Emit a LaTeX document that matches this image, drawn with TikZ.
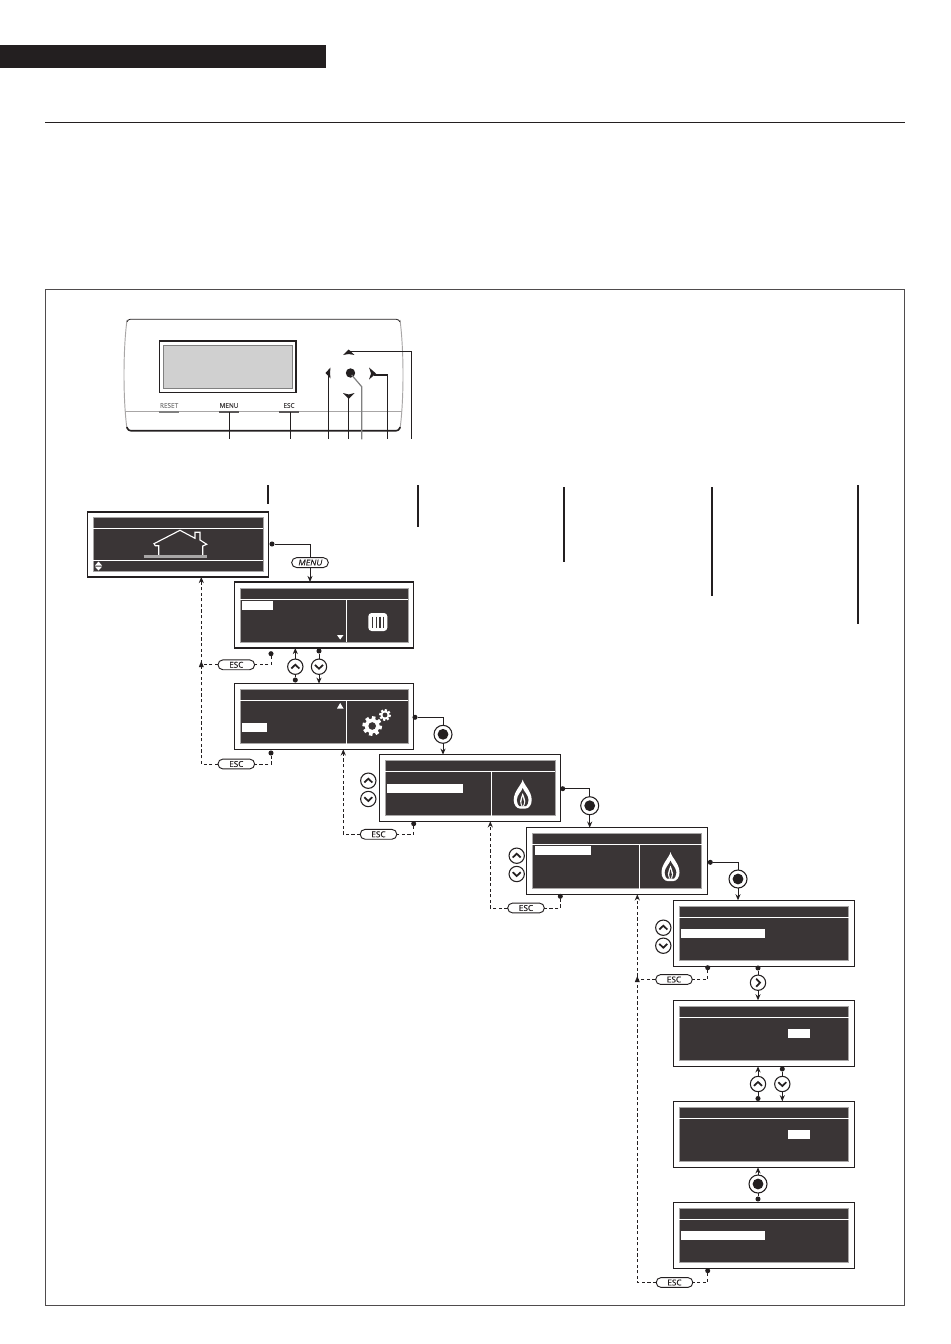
\documentclass[tikz,border=0pt]{standalone}
\usepackage{fontspec}
\setmainfont{Open Sans}
\newfontfamily\pillfont[FakeBold=0.35]{Open Sans}
\newfontfamily\pillslant[FakeBold=0.35,FakeSlant=0.18]{Open Sans}
\usetikzlibrary{arrows.meta,shapes.misc,calc}
\definecolor{lcd}{HTML}{3A3536}
\definecolor{ink}{HTML}{231F20}
\definecolor{edge}{HTML}{A8A6A6}
\definecolor{lcdpanel}{HTML}{D0D0D0}
\newcommand{\scrn}[8]{% name, x1,y1,x2,y2 outer; inner inset top, header y, vertical x or 0
  \pgfmathsetmacro{\scrw}{(#4-#2)*0.75}\pgfmathsetmacro{\scrh}{(#5-#3)*0.75}
  \node[scrbox,minimum width=\scrw pt,minimum height=\scrh pt,anchor=north west] (#1) at (#2,#3) {};
  \fill[lcd,draw=edge,line width=.5pt] ($(#2,#3)+(5.5,#6)$) rectangle ($(#4,#5)+(-5.5,-5.6)$);
  \draw[lcdline] (#2+5.5,#7) -- (#4-5.5,#7);
  \ifnum#8>0 \draw[lcdline] (#8,#7) -- (#8,#5-5.6);\fi
}
\newcommand{\hlt}[4]{\fill[white] (#1,#2) rectangle (#3,#4);}
\newcommand{\btnbase}[3]{\node[btn] (#1) at (#2,#3) {};}
\newcommand{\btnU}[3]{\btnbase{#1}{#2}{#3}\draw[chev] ($(#1)+(-4,1.8)$) -- ($(#1)+(0,-2)$) -- ($(#1)+(4,1.8)$);}
\newcommand{\btnD}[3]{\btnbase{#1}{#2}{#3}\draw[chev] ($(#1)+(-4,-1.8)$) -- ($(#1)+(0,2)$) -- ($(#1)+(4,-1.8)$);}
\newcommand{\btnR}[3]{\btnbase{#1}{#2}{#3}\draw[chev] ($(#1)+(-1.8,-4)$) -- ($(#1)+(2,0)$) -- ($(#1)+(-1.8,4)$);}
\newcommand{\btnO}[3]{\node[btn,minimum size=13.5pt] (#1) at (#2,#3) {};\fill[ink] (#1) circle (5.4);}
\newcommand{\flameicon}[2]{\begin{scope}[shift={(#1,#2)}]
  \fill[white] (0,-14.5) .. controls (1,-9) and (9,-3) .. (9,6) .. controls (9,11) and (6,14.5) .. (3,14.5) -- (-3,14.5) .. controls (-6,14.5) and (-9,11) .. (-9,6) .. controls (-9,-3) and (-1,-9) .. (0,-14.5) -- cycle;
  \fill[lcd] (0,-6) .. controls (.5,-3) and (5.8,1) .. (5.8,6) .. controls (5.8,9) and (4.5,11) .. (3.5,12) -- (-3.5,12) .. controls (-4.5,11) and (-5.8,9) .. (-5.8,6) .. controls (-5.8,1) and (-.5,-3) .. (0,-6) -- cycle;
  \fill[white] (0,-1) .. controls (.5,2) and (2.6,4) .. (2.6,7) .. controls (2.6,9) and (1.8,11) .. (1.2,12) -- (-1.2,12) .. controls (-1.8,11) and (-2.6,9) .. (-2.6,7) .. controls (-2.6,4) and (-.5,2) .. (0,-1) -- cycle;
  \fill[lcd] (0,2.5) .. controls (.3,4.5) and (1.3,6) .. (1.3,8) .. controls (1.3,10) and (.6,11) .. (0,12) .. controls (-.6,11) and (-1.3,10) .. (-1.3,8) .. controls (-1.3,6) and (-.3,4.5) .. (0,2.5) -- cycle;
\end{scope}}
\newcommand{\gearicon}[5]{\begin{scope}[shift={(#1,#2)}]
  \fill[white] (0,0) circle (#3);
  \foreach \a in {0,45,...,315}{\draw[white,line width=#5 pt] (0,0) ++(\a+10:#3*.7) -- ++(\a+10:#3*.62);}
  \fill[lcd] (0,0) circle (#4);
\end{scope}}
\tikzset{
  scrbox/.style={draw=ink,line width=.9pt,fill=white,inner sep=0pt,outer sep=0pt},
  lcdline/.style={draw=white,line width=.7pt},
  conn/.style={draw=ink,line width=.75pt},
  dsh/.style={draw=ink,line width=.75pt,dash pattern=on 2.4pt off 1.8pt},
  tipped/.style={-{Stealth[length=4.6pt,width=3.8pt]}},
  btn/.style={circle,draw=ink,line width=.8pt,fill=white,minimum size=11.5pt,inner sep=0pt,outer sep=0pt},
  chev/.style={draw=ink,line width=1.3pt,miter limit=3},
  pill/.style={rounded rectangle,draw=ink,line width=.7pt,fill=white,minimum width=27.5pt,minimum height=7.4pt,inner sep=0pt,outer sep=0pt,font=\pillfont\fontsize{6.1}{6}\selectfont,text=ink},
  dotn/.style={circle,fill=ink,minimum size=3.8pt,inner sep=0pt,outer sep=0pt},
  panellabel/.style={font=\pillfont\fontsize{4.8}{5}\selectfont,text=#1,inner sep=0pt},
  panelbar/.style={draw=ink!75,line width=1.2pt},
  lead/.style={draw=ink,line width=.8pt},
  vmark/.style={draw=ink,line width=1.4pt}
}
\begin{document}
\begin{tikzpicture}[x=0.75pt,y=-0.75pt]
\useasboundingbox (0,0) rectangle (950,1344);
\fill[white] (0,0) rectangle (950,1344);
% header
\fill[ink] (0,45) rectangle (326,68);
\draw[ink,line width=.75pt] (45,122.5) -- (905,122.5);
\draw[draw=ink!80,line width=.6pt] (45,289) rectangle (904.6,1305);
% front panel
\draw[edge,line width=.7pt] (127,320) .. controls (123,350) and (123,400) .. (127,429);
\draw[edge,line width=.7pt] (400,320) .. controls (404,350) and (404,400) .. (400,429);
\draw[ink,line width=.6pt,rounded corners=2pt] (127,322) -- (127.5,319.3) -- (399,319.3) -- (400,322);
\draw[ink,line width=1.2pt,rounded corners=2pt] (127,427) -- (128,430.7) -- (399,430.7) -- (400,427);
\draw[edge,line width=.5pt] (125,411) -- (402,411);
\draw[ink,line width=.9pt,fill=white] (159.3,341) rectangle (296,392.7);
\fill[lcdpanel,draw=gray,line width=.4pt] (163.3,345.3) rectangle (292.7,388.7);
\node[panellabel=gray] (lreset) at (169,405.5) {RESET};
\node[panellabel=ink!85] (lmenu) at (229,405.5) {MENU};
\node[panellabel=ink!85] (lesc) at (289,405.5) {ESC};
\draw[draw=gray,line width=1.2pt] (158.7,412) -- (179,412);
\draw[panelbar] (219,412) -- (239.3,412);
\draw[panelbar] (279,412) -- (299.3,412);
\draw[lead] (229.3,412) -- (229.3,439.3);
\draw[lead] (290.3,412) -- (290.3,439.3);
\fill[ink] (350.5,373) circle (4.7);
\draw[gray,line width=.9pt] (351.7,375) -- (361.7,386.7) -- (361.7,439.3);
\fill[ink] (325.5,373) -- (330.5,367.5) -- (330,373) -- (330.5,378.5) -- cycle;
\fill[ink] (348.7,349.5) -- (343,355) -- (348.7,354) -- (354.5,355) -- cycle;
\fill[ink] (348.7,399) -- (343,393) -- (348.7,394.5) -- (354.5,393) -- cycle;
\fill[ink] (376,373.5) -- (369,367.5) -- (371,373.5) -- (369,379.5) -- cycle;
\draw[lead] (328.3,374) -- (328.3,439.3);
\draw[lead] (348.7,396) -- (348.7,439.3);
\draw[lead] (374,375) -- (387.3,375) -- (387.3,439.3);
\draw[lead] (350,351.7) -- (411.3,351.7) -- (411.3,439.3);
% vertical marks
\draw[vmark] (268,485) -- (268,504);
\draw[vmark] (418,485) -- (418,527);
\draw[vmark] (564,487) -- (564,562);
\draw[vmark] (712,487) -- (712,596);
\draw[vmark] (858,485) -- (858,624);
% screens
\scrn{s0}{87.5}{512}{268.5}{577}{5.5}{528}{0}
\draw[lcdline] (93,560) -- (263,560);
\scrn{s1}{234.7}{582}{413.7}{648}{6}{599.7}{346}
\scrn{s2}{234.7}{683.7}{413.7}{749.3}{5.6}{700.7}{346}
\scrn{s3}{379.7}{754.7}{560.7}{821.3}{6}{771.3}{491}
\scrn{s4}{526.7}{827.7}{707.3}{894.3}{6}{844.3}{639}
\scrn{s5}{673.7}{900.3}{854.3}{966.3}{5.7}{917}{0}
\scrn{s6}{673.7}{1000.3}{854.3}{1066.3}{6.4}{1017.3}{0}
\scrn{s7}{673.7}{1101.3}{854.3}{1167.3}{6}{1118.7}{0}
\scrn{s8}{673.7}{1202.3}{854.3}{1268.3}{6}{1219.3}{0}
% highlights
\hlt{241.7}{601.3}{272.7}{610}
\hlt{241.7}{723.3}{267}{732}
\hlt{387}{784}{462.7}{792.7}
\hlt{535}{846}{590.7}{854.7}
\hlt{681}{929}{765.3}{938}
\hlt{787.7}{1029.3}{810}{1037.7}
\hlt{787.7}{1130}{810}{1139}
\hlt{681}{1231}{765.3}{1240}
% triangles
\fill[white] (337,635) -- (343.5,635) -- (340.2,639.5) -- cycle;
\fill[white] (337,708.5) -- (343.5,708.5) -- (340.2,703) -- cycle;
% house
\draw[white,line width=.85pt] (158.7,555.7) -- (158.7,545.7) -- (155.3,545.7) -- (154,543.7) -- (180,530.3) -- (195,538.3) -- (195,532.3) -- (200,532.3) -- (200,540) -- (206.7,544.3) -- (202.7,546) -- (202.7,555.7);
\draw[edge,line width=1.8pt] (143.5,556.5) -- (207,556.5);
% scroll icon
\fill[white] (98.5,561.5) -- (102,565.5) -- (95,565.5) -- cycle;
\fill[white] (98.5,570.5) -- (102,566.7) -- (95,566.7) -- cycle;
% radiator
\fill[white,rounded corners=2.5pt] (368.3,613) rectangle (387.3,631);
\foreach \x in {372.5,376.2,379.9,383.6}{\draw[lcd,line width=.9pt] (\x,616.5) -- (\x,627.5);}
% gears
\gearicon{372.2}{726}{7.4}{3.8}{2.7}
\gearicon{385}{715}{4.4}{2.4}{1.7}
% flames
\flameicon{522.7}{794}
\flameicon{670.5}{866.5}
% buttons and pills
\node[pill] (pmenu) at (310,562.6) {\pillslant MENU};
\node[pill] (pe1) at (236.3,664.8) {ESC};
\node[pill] (pe2) at (236.3,764) {ESC};
\node[pill] (pe3) at (378.5,834.3) {ESC};
\node[pill] (pe4) at (526,908) {ESC};
\node[pill] (pe5) at (674,979.5) {ESC};
\node[pill] (pe6) at (674.5,1282.5) {ESC};
\btnU{bu1}{295.3}{666.7}
\btnD{bd1}{319}{666.7}
\btnO{bo2}{443}{734.3}
\btnU{bu3}{368.3}{780.7}
\btnD{bd3}{368.3}{799}
\btnO{bo3}{589.7}{805.7}
\btnU{bu4}{516.7}{855.7}
\btnD{bd4}{516.7}{874}
\btnO{bo4}{738}{879}
\btnU{bu5}{663.3}{927.7}
\btnD{bd5}{663.3}{945.7}
\btnR{br5}{758}{982.7}
\btnU{bu6}{758}{1084}
\btnD{bd6}{782.3}{1084}
\btnO{bo7}{758}{1184}
% dot nodes
\node[dotn] (d0) at (272,544) {};
\node[dotn] (d1e) at (271,653.7) {};
\node[dotn] (d1d) at (319,651) {};
\node[dotn] (d2u) at (295.3,680) {};
\node[dotn] (d2e) at (271,753) {};
\node[dotn] (d2r) at (415,717.3) {};
\node[dotn] (d3e) at (413.7,823.7) {};
\node[dotn] (d3r) at (562.7,788.7) {};
\node[dotn] (d4e) at (560.3,896.3) {};
\node[dotn] (d4r) at (710.3,862.3) {};
\node[dotn] (d5e) at (707.7,967.7) {};
\node[dotn] (d5b) at (758,968) {};
\node[dotn] (d6d) at (782.3,1069) {};
\node[dotn] (d7u) at (758,1098.5) {};
\node[dotn] (d8u) at (758,1199) {};
\node[dotn] (d8e) at (707.7,1270.7) {};
% junction coordinates
\coordinate (j1) at (201.3,664.8);
\coordinate (j2) at (201.3,764);
\coordinate (j3) at (343.3,834.3);
\coordinate (j4) at (490.3,908);
\coordinate (j5) at (637.3,979.5);
\coordinate (j6) at (637.3,1282.5);
% solid connectors
\draw[conn] (d0) -| (pmenu.north);
\draw[conn,tipped] (pmenu.south) -- (pmenu.south |- s1.north);
\draw[conn,tipped] (bu1.north) -- (bu1.north |- s1.south);
\draw[conn] (d1d) -- (bd1.north);
\draw[conn,tipped] (bd1.south) -- (bd1.south |- s2.north);
\draw[conn] (d2u) -- (bu1.south);
\draw[conn] (d2r) -| (bo2.north);
\draw[conn,tipped] (bo2.south) -- (bo2.south |- s3.north);
\draw[conn] (d3r) -| (bo3.north);
\draw[conn,tipped] (bo3.south) -- (bo3.south |- s4.north);
\draw[conn] (d4r) -| (bo4.north);
\draw[conn,tipped] (bo4.south) -- (bo4.south |- s5.north);
\draw[conn] (d5b) -- (br5.north);
\draw[conn,tipped] (br5.south) -- (br5.south |- s6.north);
\draw[conn,tipped] (bu6.north) -- (bu6.north |- s6.south);
\draw[conn] (d7u) -- (bu6.south);
\draw[conn] (d6d) -- (bd6.north);
\draw[conn,tipped] (bd6.south) -- (bd6.south |- s7.north);
\draw[conn,tipped] (bo7.north) -- (bo7.north |- s7.south);
\draw[conn] (d8u) -- (bo7.south);
% dashed connectors
\draw[dsh] (d1e) |- (pe1.east);
\draw[dsh] (pe1.west) -- (j1);
\draw[dsh] (d2e) |- (pe2.east);
\draw[dsh,tipped] (pe2.west) -- (j2) -- (j2 |- s0.south);
\fill[ink] (201.3,661) -- (203.8,667) -- (198.8,667) -- cycle;
\draw[dsh] (d3e) |- (pe3.east);
\draw[dsh,tipped] (pe3.west) -- (j3) -- (j3 |- s2.south);
\draw[dsh] (d4e) |- (pe4.east);
\draw[dsh,tipped] (pe4.west) -- (j4) -- (j4 |- s3.south);
\draw[dsh] (d5e) |- (pe5.east);
\draw[dsh] (pe5.west) -- (j5);
\fill[ink] (637.3,976) -- (639.8,982) -- (634.8,982) -- cycle;
\draw[dsh] (d8e) |- (pe6.east);
\draw[dsh,tipped] (pe6.west) -- (j6) -- (j6 |- s4.south);
\end{tikzpicture}
\end{document}
